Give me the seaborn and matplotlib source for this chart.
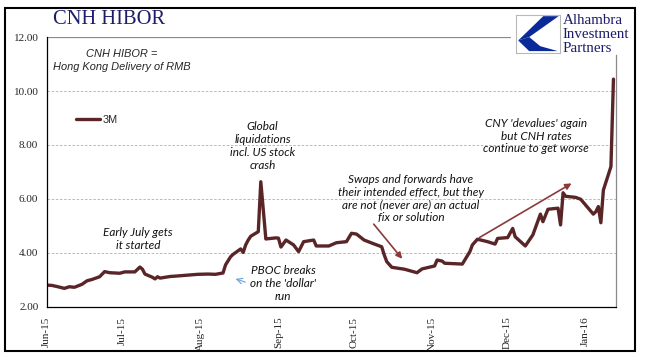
import pandas as pd
import matplotlib
matplotlib.use("Agg")
import matplotlib.pyplot as plt
import matplotlib.dates as mdates
from matplotlib.patches import Rectangle, Polygon
import seaborn as sns

# 3M CNH HIBOR readings (approximate)
dates = [
    "2015-06-01", "2015-06-03", "2015-06-05", "2015-06-08", "2015-06-10", "2015-06-12",
    "2015-06-15", "2015-06-17", "2015-06-19", "2015-06-22", "2015-06-24", "2015-06-26",
    "2015-06-30", "2015-07-02", "2015-07-06", "2015-07-08", "2015-07-09", "2015-07-10",
    "2015-07-13", "2015-07-14", "2015-07-15", "2015-07-16", "2015-07-20", "2015-07-23",
    "2015-07-27", "2015-07-31", "2015-08-04", "2015-08-07", "2015-08-10", "2015-08-11",
    "2015-08-13", "2015-08-14", "2015-08-17", "2015-08-18", "2015-08-19", "2015-08-20",
    "2015-08-21", "2015-08-24", "2015-08-25", "2015-08-27", "2015-08-31", "2015-09-01",
    "2015-09-02", "2015-09-04", "2015-09-07", "2015-09-09", "2015-09-11", "2015-09-15",
    "2015-09-16", "2015-09-21", "2015-09-24", "2015-09-28", "2015-09-30", "2015-10-02",
    "2015-10-05", "2015-10-08", "2015-10-12", "2015-10-13", "2015-10-14", "2015-10-16",
    "2015-10-21", "2015-10-26", "2015-10-28", "2015-11-02", "2015-11-03", "2015-11-05",
    "2015-11-06", "2015-11-13", "2015-11-16", "2015-11-17", "2015-11-19", "2015-11-23",
    "2015-11-26", "2015-11-27", "2015-12-01", "2015-12-03", "2015-12-04", "2015-12-08",
    "2015-12-11", "2015-12-14", "2015-12-15", "2015-12-17", "2015-12-21", "2015-12-22",
    "2015-12-23", "2015-12-24", "2015-12-28", "2015-12-30", "2016-01-04", "2016-01-05",
    "2016-01-06", "2016-01-07", "2016-01-08", "2016-01-11", "2016-01-12",
]
hibor_3m = [
    2.81, 2.80, 2.76, 2.69, 2.75, 2.73,
    2.84, 2.97, 3.02, 3.12, 3.31, 3.27,
    3.25, 3.30, 3.30, 3.48, 3.40, 3.22,
    3.10, 3.04, 3.12, 3.07, 3.13, 3.15,
    3.18, 3.21, 3.22, 3.21, 3.26, 3.56,
    3.86, 3.95, 4.15, 4.02, 4.30, 4.48,
    4.62, 4.79, 6.64, 4.52, 4.56, 4.55,
    4.22, 4.48, 4.30, 4.05, 4.42, 4.48,
    4.26, 4.26, 4.38, 4.42, 4.73, 4.70,
    4.48, 4.37, 4.23, 3.93, 3.68, 3.47,
    3.40, 3.27, 3.41, 3.52, 3.74, 3.70,
    3.62, 3.59, 4.05, 4.30, 4.51, 4.42,
    4.33, 4.54, 4.57, 4.91, 4.60, 4.26,
    4.67, 5.44, 5.16, 5.62, 5.66, 5.04,
    6.23, 6.10, 6.06, 5.99, 5.44, 5.53,
    5.72, 5.12, 6.33, 7.20, 10.44,
]
y_ticks = [2, 4, 6, 8, 10, 12]

df = pd.DataFrame({"date": pd.to_datetime(dates), "3M": hibor_3m})

sns.set_style("white")
plt.rcParams["font.family"] = ["Liberation Sans", "DejaVu Sans"]

line_color = "#5a2527"
navy = "#1c1c6b"
serif = ["Liberation Serif", "DejaVu Serif"]
note_font = dict(family=["Lato", "DejaVu Sans"], style="italic", fontsize=8.5,
                 color="#111111", ha="center", va="center", linespacing=1.2)

fig = plt.figure(figsize=(6.45, 3.61), dpi=100)
ax = fig.add_axes([0.0724, 0.1496, 0.8826, 0.7479])

sns.lineplot(data=df, x="date", y="3M", ax=ax, color=line_color, linewidth=2.4,
             label="3M")

ax.set_xlim(pd.Timestamp("2015-06-01"), pd.Timestamp("2016-01-13"))
ax.set_ylim(2, 12)
ax.set_yticks(y_ticks)
ax.set_yticklabels([f"{v:.2f}" for v in y_ticks], family=serif, fontsize=8)
ax.xaxis.set_major_locator(mdates.MonthLocator())
ax.xaxis.set_major_formatter(mdates.DateFormatter("%b-%y"))
plt.setp(ax.get_xticklabels(), rotation=90, family=serif, fontsize=8)
ax.set_xlabel("")
ax.set_ylabel("")
ax.tick_params(axis="both", direction="out", length=4, width=0.8, color="black", pad=2)
ax.tick_params(axis="x", length=5)

for v in y_ticks[1:-1]:
    ax.axhline(v, color="#b0b0b0", linewidth=0.6, linestyle=(0, (3, 2)), zorder=0)
ax.axhline(12, xmin=0, xmax=0.814, color="#8a8a8a", linewidth=0.9, zorder=0)

ax.spines["top"].set_visible(False)
ax.spines["left"].set_color("black")
ax.spines["bottom"].set_color("black")
ax.spines["right"].set_color("#8a8a8a")
ax.spines["right"].set_bounds(2, 11.33)
for s in ax.spines.values():
    s.set_linewidth(0.9)

leg = ax.legend(loc="center left", bbox_to_anchor=(0.035, 0.693), frameon=False,
                handlelength=2.2, handletextpad=0.2, fontsize=7.8)

# annotations
ax.text(0.132, 0.913, "CNH HIBOR =\nHong Kong Delivery of RMB", transform=ax.transAxes,
        family=["Liberation Sans", "DejaVu Sans"], style="italic", fontsize=7.9,
        ha="center", va="center", linespacing=1.4)
ax.text(0.379, 0.596, "Global\nliquidations\nincl. US stock\ncrash", transform=ax.transAxes, **note_font)
ax.text(0.160, 0.252, "Early July gets\nit started", transform=ax.transAxes, **note_font)
ax.text(0.415, 0.087, "PBOC breaks\non the 'dollar'\nrun", transform=ax.transAxes, **note_font)
ax.text(0.640, 0.402, "Swaps and forwards have\ntheir intended effect, but they\n"
        "are not (never are) an actual\nfix or solution", transform=ax.transAxes, **note_font)
ax.text(0.860, 0.633, "CNY 'devalues' again\nbut CNH rates\ncontinue to get worse",
        transform=ax.transAxes, **note_font)

ax.annotate("", xy=(0.3272, 0.1074), xytext=(0.3536, 0.0889), xycoords="axes fraction",
            arrowprops=dict(arrowstyle="->", color="#6f9fd8", lw=0.8))
ax.annotate("", xy=(0.6276, 0.1704), xytext=(0.5714, 0.3148), xycoords="axes fraction",
            arrowprops=dict(arrowstyle="-|>", color="#8b3a3a", lw=1.2, mutation_scale=9))
ax.annotate("", xy=(0.9262, 0.4630), xytext=(0.7559, 0.2519), xycoords="axes fraction",
            arrowprops=dict(arrowstyle="-|>", color="#8b3a3a", lw=1.2, mutation_scale=9))

# title and logo
fig.text(0.082, 0.945, "CNH HIBOR", family=serif, fontsize=14.8, color=navy,
         ha="left", va="center")
logo = fig.add_axes([516 / 645, 1 - 53 / 361, 44 / 645, 38 / 361])
logo.set_xlim(0, 1)
logo.set_ylim(0, 1)
logo.set_xticks([])
logo.set_yticks([])
for s in logo.spines.values():
    s.set_color("#b8b8b8")
    s.set_linewidth(0.8)
logo.add_patch(Polygon([(0.62, 0.97), (0.97, 0.97), (0.30, 0.42), (0.05, 0.33)],
                       closed=True, color="#0a2a9a", lw=0))
logo.add_patch(Polygon([(0.05, 0.33), (0.30, 0.42), (0.55, 0.18), (0.95, 0.05),
                        (0.30, 0.05)], closed=True, color="#0a2a9a", lw=0))
for i, word in enumerate(["Alhambra", "Investment", "Partners"]):
    fig.text(563 / 645, 1 - (21 + 13.5 * i) / 361, word, family=serif, fontsize=10.8,
             color=navy, ha="left", va="center")

fig.add_artist(Rectangle((0.0078, 0.0277), 0.9767, 0.950, transform=fig.transFigure,
                         fill=False, edgecolor="black", linewidth=1.5))

fig.savefig("out.png", dpi=100)
